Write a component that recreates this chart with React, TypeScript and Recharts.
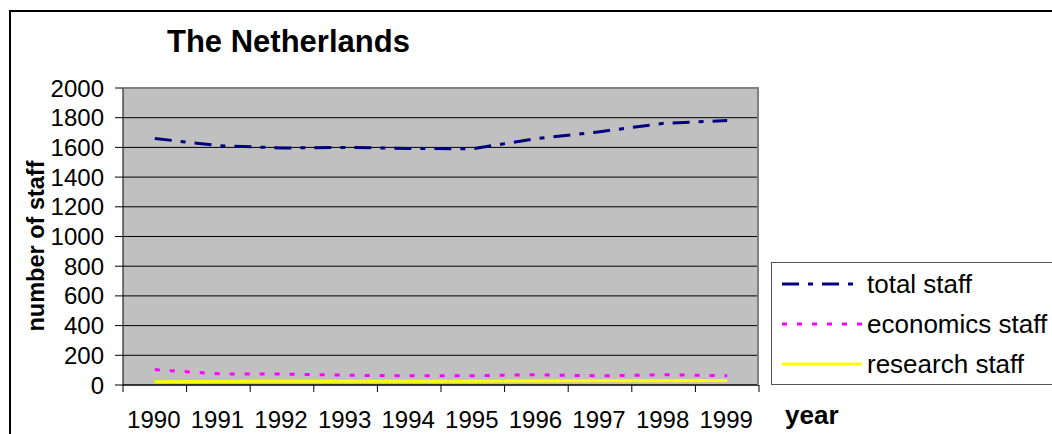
import { LineChart, Line, XAxis, YAxis, CartesianGrid, Legend } from 'recharts';

const years = ['1990', '1991', '1992', '1993', '1994', '1995', '1996', '1997', '1998', '1999'];
const totalStaff = [1660, 1612, 1596, 1600, 1593, 1591, 1659, 1706, 1762, 1781];
const economicsStaff = [104, 75, 74, 66, 62, 62, 69, 62, 69, 62];
const researchStaff = [22, 24, 25, 25, 26, 26, 27, 28, 29, 30];
const yTicks = [0, 200, 400, 600, 800, 1000, 1200, 1400, 1600, 1800, 2000];

const data = years.map((year, i) => ({
  year,
  total: totalStaff[i],
  economics: economicsStaff[i],
  research: researchStaff[i],
}));

const series = [
  { key: 'total', name: 'total staff', color: '#000080', dash: '17 9 5 9' },
  { key: 'economics', name: 'economics staff', color: '#FF00FF', dash: '5 10' },
  { key: 'research', name: 'research staff', color: '#FFFF00', dash: undefined },
];

const FONT = '"Liberation Sans", Arial, sans-serif';
const W = 1052;
const H = 434;
const PLOT = { left: 123, right: 759, top: 88, bottom: 385 };
const BAND = (PLOT.right - PLOT.left) / years.length;

const YearTick = (props: any) => {
  const { x, payload, index } = props;
  const y0 = PLOT.bottom;
  return (
    <g>
      <line x1={x - BAND / 2} y1={y0} x2={x - BAND / 2} y2={y0 + 7} stroke="#000" />
      {index === years.length - 1 && (
        <line x1={x + BAND / 2} y1={y0} x2={x + BAND / 2} y2={y0 + 7} stroke="#000" />
      )}
      <text x={x - 1} y={y0 + 43} textAnchor="middle" fontSize={24} fontFamily={FONT} fill="#000">
        {payload.value}
      </text>
    </g>
  );
};

const renderLegend = () => (
  <div
    style={{
      border: '1px solid #555',
      width: 300,
      height: 123,
      boxSizing: 'border-box',
      background: '#fff',
      fontFamily: FONT,
      paddingTop: 1,
    }}
  >
    {series.map((s) => (
      <div key={s.key} style={{ display: 'flex', alignItems: 'center', height: 40 }}>
        <svg width={90} height={10} style={{ display: 'block' }}>
          <line x1={10} y1={5} x2={90} y2={5} stroke={s.color} strokeWidth={3} strokeDasharray={s.dash} />
        </svg>
        <span style={{ fontSize: 26, marginLeft: 5, lineHeight: '40px', color: '#000', whiteSpace: 'nowrap' }}>
          {s.name}
        </span>
      </div>
    ))}
  </div>
);

const App = () => {
  return (
    <div
      style={{
        position: 'absolute',
        left: 0,
        top: 0,
        width: W,
        height: H,
        overflow: 'hidden',
        background: '#fff',
      }}
    >
      <div
        style={{
          position: 'absolute',
          left: 9,
          top: 10,
          width: 1200,
          height: 600,
          borderTop: '2px solid #000',
          borderLeft: '2px solid #000',
        }}
      />
      <LineChart
        width={W}
        height={H}
        data={data}
        margin={{ top: PLOT.top, right: W - PLOT.right, bottom: 0, left: 0 }}
      >
        <CartesianGrid vertical={false} stroke="#000" fill="#C0C0C0" fillOpacity={1} />
        <XAxis
          dataKey="year"
          scale="band"
          interval={0}
          height={H - PLOT.bottom}
          tickLine={false}
          tickSize={7}
          tickMargin={0}
          axisLine={{ stroke: '#000' }}
          tick={<YearTick />}
        />
        <YAxis
          width={PLOT.left}
          domain={[0, 2000]}
          ticks={yTicks}
          interval={0}
          tickSize={8}
          tickMargin={11}
          axisLine={{ stroke: '#000' }}
          tickLine={{ stroke: '#000' }}
          tick={{ fontSize: 24, fill: '#000', fontFamily: FONT }}
        />
        <Legend
          layout="vertical"
          align="center"
          verticalAlign="middle"
          wrapperStyle={{ left: 771, top: 262, width: 300, height: 123 }}
          content={renderLegend}
        />
        {series.map((s) => (
          <Line
            key={s.key}
            type="linear"
            dataKey={s.key}
            name={s.name}
            stroke={s.color}
            strokeWidth={3}
            strokeDasharray={s.dash}
            dot={false}
            activeDot={false}
            isAnimationActive={false}
          />
        ))}
      </LineChart>
      <div
        style={{
          position: 'absolute',
          left: PLOT.left,
          top: PLOT.top - 1,
          width: PLOT.right - PLOT.left,
          height: PLOT.bottom - PLOT.top + 1,
          borderTop: '2px solid #808080',
          borderRight: '2px solid #808080',
          boxSizing: 'border-box',
          pointerEvents: 'none',
        }}
      />
      <svg
        width={W}
        height={H}
        style={{ position: 'absolute', left: 0, top: 0, pointerEvents: 'none' }}
        fontFamily={FONT}
      >
        <text x={167} y={52} fontSize={31} fontWeight="bold" fill="#000">
          The Netherlands
        </text>
        <text
          x={0}
          y={0}
          transform="translate(44 246) rotate(-90)"
          textAnchor="middle"
          fontSize={23.5}
          fontWeight="bold"
          fill="#000"
        >
          number of staff
        </text>
        <text x={785} y={424} fontSize={26} fontWeight="bold" fill="#000">
          year
        </text>
      </svg>
    </div>
  );
};

export default App;
